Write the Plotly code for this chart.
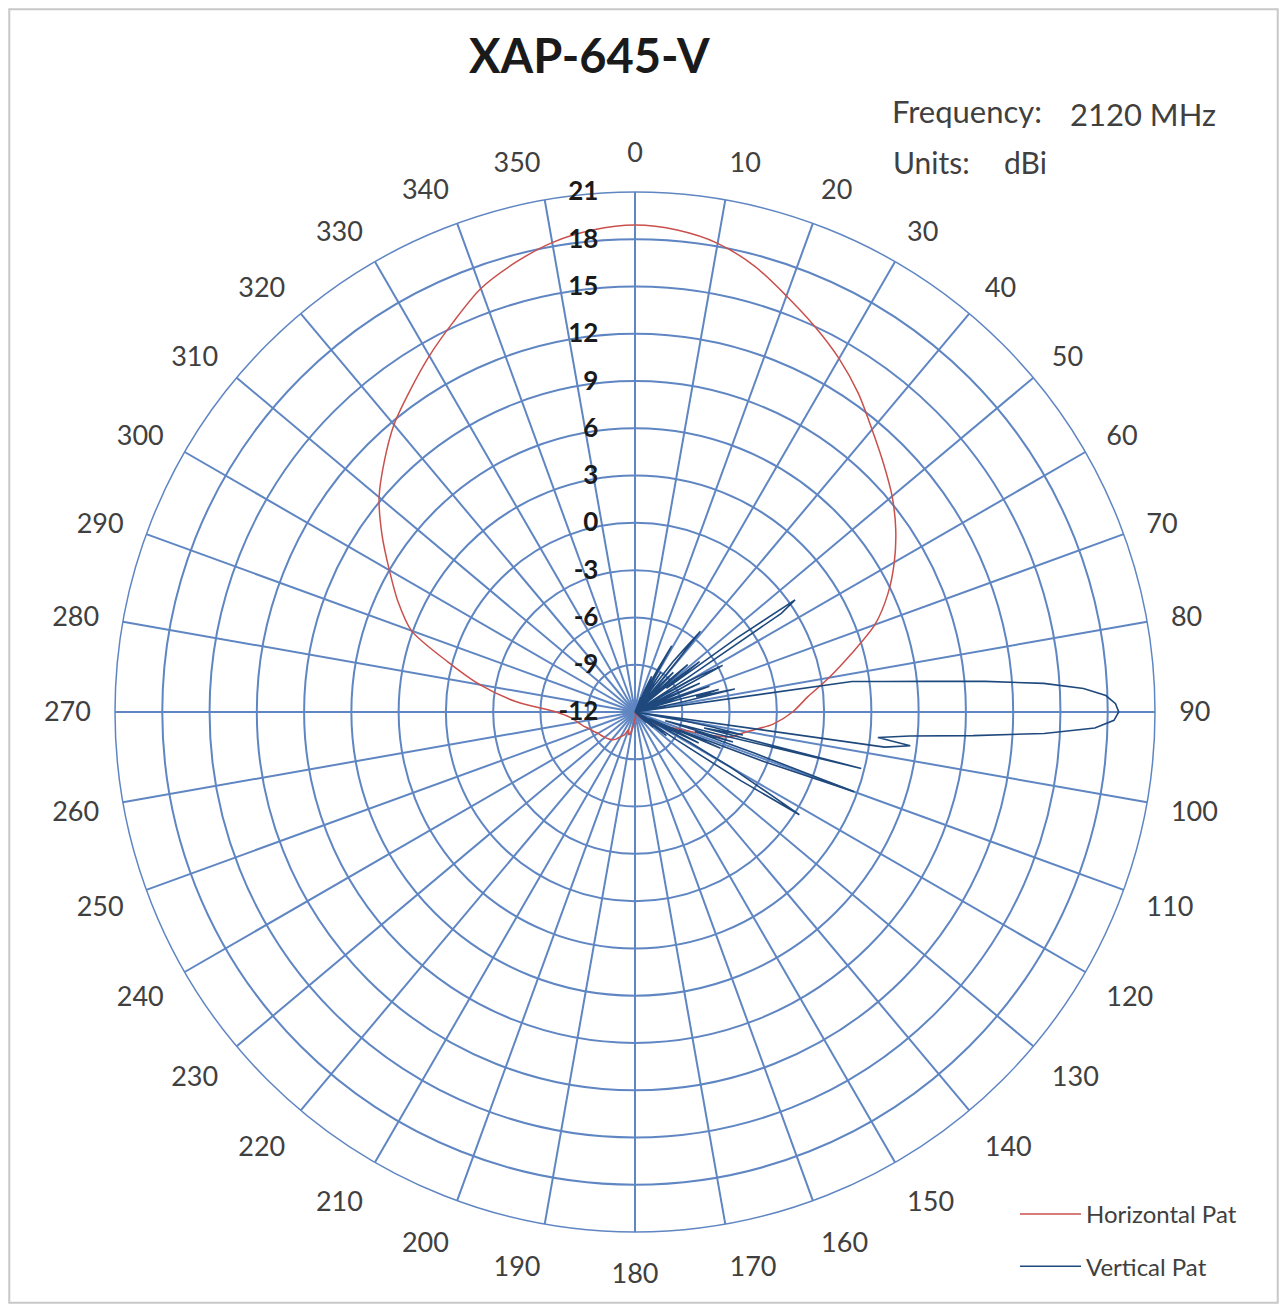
import plotly.graph_objects as go

# ---------------- data ----------------
angle_ticks = list(range(0, 360, 10))
radial_ticks = [-12, -9, -6, -3, 0, 3, 6, 9, 12, 15, 18, 21]

# Horizontal pattern, 5 degree steps (deg -> dBi)
h_angles = list(range(0, 365, 5))
h_values = [
    18.9, 18.7, 18.2, 17.3, 16.1, 15.0, 13.9, 12.7, 11.4, 10.3,   # 0-45
    9.3, 8.2, 7.0, 5.7, 4.2, 2.2, 0.5, -1.0, -2.0, -3.2,          # 50-95
    -4.8, -5.9, -8.5, -9.8, -10.3, -10.8, -11.2, -11.5, -11.7, -11.8,  # 100-145
    -11.9, -12.0, -12.0, -11.9, -11.8, -11.6, -11.6, -11.3, -10.8, -10.5,  # 150-195
    -10.8, -10.4, -10.2, -9.9, -9.7, -9.6, -9.5, -9.4, -9.3, -9.1,  # 200-245
    -8.9, -8.6, -8.3, -7.9, -7.0, -4.4, -2.0, 0.3, 3.1, 4.6,     # 250-295
    6.0, 7.6, 9.2, 10.5, 11.8, 12.9, 14.1, 15.3, 16.6, 17.5,     # 300-345
    18.25, 18.7, 18.9,                                           # 350-360
]

# Vertical pattern, 1 degree steps (deg -> dBi)
v_angles = list(range(0, 361))
v_values = [
    -12, -12, -12, -12, -12, -12, -12, -12, -12, -12,        # 0-9
    -12, -12, -12, -12, -12, -12, -12, -12, -12, -12,        # 10-19
    -12, -12, -11, -12, -10.5, -9.5, -12, -11, -9, -7.2,     # 20-29
    -10, -12, -10.5, -9, -11, -12, -10, -8, -7, -5.4,        # 30-39
    -9, -12, -10, -9.5, -8.5, -11, -12, -9, -7.5, -10,       # 40-49
    -12, -9, -6.8, -9.5, -4, 0.4, -0.8, -8, -12, -10,        # 50-59
    -8, -7, -5.7, -9, -12, -10, -7.5, -9.5, -12, -11,        # 60-69
    -8.5, -7, -10, -12, -9, -6.5, -8, -5.5, -9, -12,         # 70-79
    -10, -12, 1.9, 3.9, 6.6, 10.3, 14.0, 16.5, 17.9, 18.5,   # 80-89
    18.7, 18.4, 17.2, 14.0, 9.5, 5.5, 3.5, 5.6, 4.0, -12,    # 90-99
    -9, -7, -5, -7.5, 2.8, -6.5, -10, -5.5, -8, -4,          # 100-109
    2.8, -3, -9, -6.1, -11, -9, -7.5, -10, -12, -8,          # 110-119
    -5, -3, 0.3, -4, -9, -12, -10.5, -9.5, -12, -11,         # 120-129
    -10.5, -12, -12, -11, -12, -12, -12, -12, -12, -12,      # 130-139
    -12, -12, -12, -12, -12, -12, -12, -12, -12, -12,        # 140-149
    -12, -12, -12, -12, -12, -12, -12, -12, -12, -12,        # 150-159
    -12, -12, -12, -12, -12, -12, -12, -12, -12, -12,        # 160-169
    -12, -12, -12, -12, -12, -12, -12, -12, -12, -12,        # 170-179
    -12, -12, -12, -12, -12, -12, -12, -12, -12, -12,        # 180-189
    -12, -12, -12, -12, -12, -12, -12, -12, -12, -12,        # 190-199
    -12, -12, -12, -12, -12, -12, -12, -12, -12, -12,        # 200-209
    -12, -12, -12, -12, -12, -12, -12, -12, -12, -12,        # 210-219
    -12, -12, -12, -12, -12, -12, -12, -12, -12, -12,        # 220-229
    -12, -12, -12, -12, -12, -12, -12, -12, -12, -12,        # 230-239
    -12, -12, -12, -12, -12, -12, -12, -12, -12, -12,        # 240-249
    -12, -12, -12, -12, -12, -12, -12, -12, -12, -12,        # 250-259
    -12, -12, -12, -12, -12, -12, -12, -12, -12, -12,        # 260-269
    -12, -12, -12, -12, -12, -12, -12, -12, -12, -12,        # 270-279
    -12, -12, -12, -12, -12, -12, -12, -12, -12, -12,        # 280-289
    -12, -12, -12, -12, -12, -12, -12, -12, -12, -12,        # 290-299
    -12, -12, -12, -12, -12, -12, -12, -12, -12, -12,        # 300-309
    -12, -12, -12, -12, -12, -12, -12, -12, -12, -12,        # 310-319
    -12, -12, -12, -12, -12, -12, -12, -12, -12, -12,        # 320-329
    -12, -12, -12, -12, -12, -12, -12, -12, -12, -12,        # 330-339
    -12, -12, -12, -12, -12, -12, -12, -12, -12, -12,        # 340-349
    -12, -12, -12, -12, -12, -12, -12, -12, -12, -12,        # 350-359
    -12,                                                     # 360
]

title_text = "XAP-645-V"
series_names = ["Horizontal Pat", "Vertical Pat"]

# ---------------- styling ----------------
# The page body has an 8 px margin; figure is sized to fit inside the window.
OFF = 8
W, H = 1287 - 2 * OFF, 1312 - 2 * OFF
GRID = "#5f86c2"
RED = "#c9504c"
NAVY = "#1f497d"
FONT = "Lato"
TXT = "#404040"


def px(x):  # page x -> paper x
    return (x - OFF) / W


def py(y):  # page y -> paper y
    return 1 - (y - OFF) / H


cx, cy, R = 635, 712, 520

fig = go.Figure()
fig.add_trace(go.Scatterpolar(
    r=h_values, theta=h_angles, mode="lines", name=series_names[0],
    line=dict(color=RED, width=1.5, shape="spline", smoothing=0.8),
    legendgroup="h",
))
fig.add_trace(go.Scatterpolar(
    r=v_values, theta=v_angles, mode="lines", name=series_names[1],
    line=dict(color=NAVY, width=1.6),
    legendgroup="v",
))

fig.update_layout(
    width=W, height=H,
    margin=dict(l=0, r=0, t=0, b=0),
    paper_bgcolor="white",
    plot_bgcolor="white",
    font=dict(family=FONT, color=TXT),
    polar=dict(
        domain=dict(x=[px(cx - R), px(cx + R)],
                    y=[py(cy + R), py(cy - R)]),
        bgcolor="white",
        angularaxis=dict(
            direction="clockwise", rotation=90,
            tickmode="array", tickvals=angle_ticks,
            ticktext=[str(a) for a in angle_ticks],
            showgrid=True, gridcolor=GRID, gridwidth=1.5,
            showline=True, linecolor=GRID, linewidth=1.5,
            ticks="outside", ticklen=18, tickcolor="rgba(0,0,0,0)",
            tickfont=dict(family=FONT, size=27, color=TXT),
        ),
        radialaxis=dict(
            range=[-12, 21], tickmode="array", tickvals=radial_ticks,
            ticktext=[str(v) for v in radial_ticks],
            angle=90, side="counterclockwise", tickangle=90,
            showgrid=True, gridcolor=GRID, gridwidth=1.5,
            showline=False,
            ticks="outside", ticklen=27, tickcolor="rgba(0,0,0,0)",
            tickfont=dict(family=FONT, size=26, color="#1a1a1a", weight="bold"),
        ),
    ),
    showlegend=True,
    legend=dict(
        x=px(1015), y=py(1192), xanchor="left", yanchor="top",
        font=dict(family=FONT, size=24, color=TXT),
        bgcolor="rgba(0,0,0,0)", traceorder="grouped", tracegroupgap=18,
        itemwidth=61,
    ),
    annotations=[
        dict(text=title_text, x=px(589), y=py(55), xref="paper", yref="paper",
             showarrow=False, xanchor="center", yanchor="middle",
             font=dict(family=FONT, size=47, color="#1a1a1a", weight="bold")),
        dict(text="Frequency:", x=px(890), y=py(111), xref="paper", yref="paper",
             showarrow=False, xanchor="left", yanchor="middle",
             font=dict(family=FONT, size=31, color=TXT)),
        dict(text="2120 MHz", x=px(1068), y=py(114), xref="paper", yref="paper",
             showarrow=False, xanchor="left", yanchor="middle",
             font=dict(family=FONT, size=31, color=TXT)),
        dict(text="Units:", x=px(891), y=py(162), xref="paper", yref="paper",
             showarrow=False, xanchor="left", yanchor="middle",
             font=dict(family=FONT, size=30, color=TXT)),
        dict(text="dBi", x=px(1002), y=py(162), xref="paper", yref="paper",
             showarrow=False, xanchor="left", yanchor="middle",
             font=dict(family=FONT, size=30, color=TXT)),
    ],
    shapes=[
        dict(type="rect", xref="paper", yref="paper", x0=0.001, y0=0.001, x1=0.999, y1=0.999,
             line=dict(color="#c8c8c8", width=2), fillcolor="rgba(0,0,0,0)", layer="below"),
    ],
)

fig.write_html("out.html")
